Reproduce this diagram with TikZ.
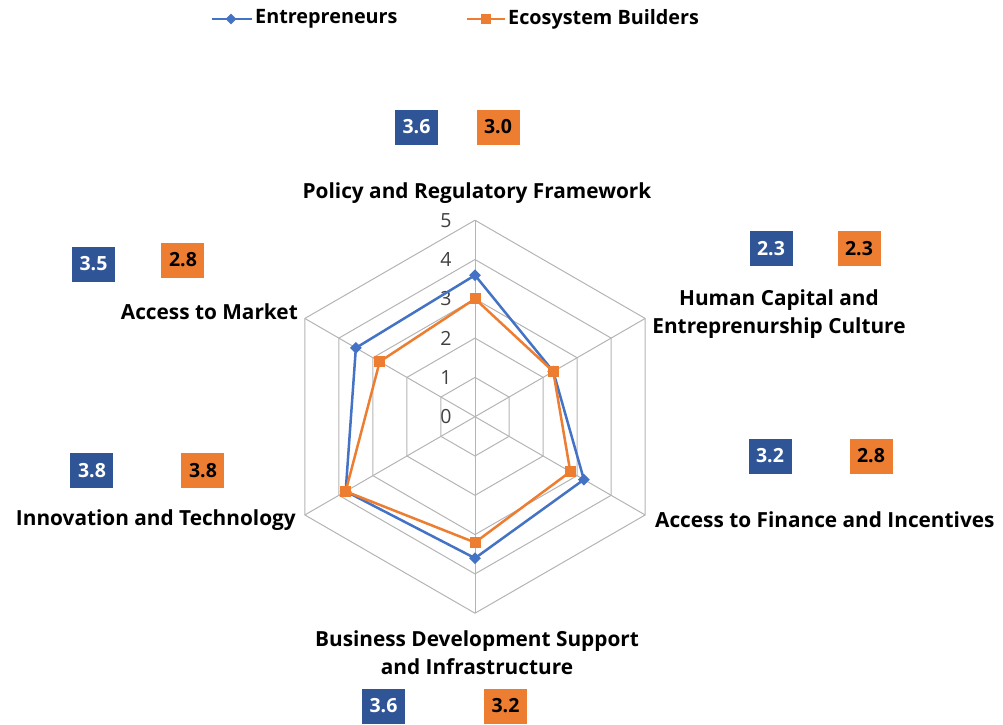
\documentclass[tikz,border=0pt]{standalone}
\usepackage{fontspec}
\setmainfont{Open Sans}
\usetikzlibrary{shapes.geometric}
\definecolor{entline}{HTML}{4472C4}
\definecolor{entbox}{HTML}{2F5597}
\definecolor{ecoorange}{HTML}{ED7D31}
\definecolor{gridgray}{HTML}{B4B4B4}
\definecolor{ticktext}{HTML}{404040}

\begin{document}
\begin{tikzpicture}[x=39.3pt,y=39.3pt,
    grid line/.style={draw=gridgray,line width=1pt},
    ent line/.style={draw=entline,line width=2.5pt,line join=round},
    eco line/.style={draw=ecoorange,line width=2.5pt,line join=round},
    ent mark/.style={diamond,fill=entline,inner sep=0pt,minimum size=12pt},
    eco mark/.style={rectangle,fill=ecoorange,inner sep=0pt,minimum size=11pt},
    axis label/.style={font=\bfseries\fontsize{20.8}{28}\selectfont,align=center,inner sep=1pt},
    legend label/.style={font=\bfseries\fontsize{19.8}{24}\selectfont,inner sep=1pt},
    tick label/.style={text=ticktext,font=\fontsize{19.5}{22}\selectfont},
    ent box/.style={fill=entbox,text=white,font=\bfseries\fontsize{19.5}{20}\selectfont,minimum width=43pt,minimum height=35pt,inner sep=0pt},
    eco box/.style={ent box,fill=ecoorange,text=black}]

    \useasboundingbox (-475pt,-307.3pt) rectangle (528pt,416.7pt);

    % web
    \foreach \k in {1,...,5}
        \draw[grid line] (90:\k) -- (30:\k) -- (-30:\k) -- (-90:\k) -- (-150:\k) -- (150:\k) -- cycle;
    \foreach \a in {90,30,-30,-90,-150,150}
        \draw[grid line] (0,0) -- (\a:5);

    \node[tick label] (t0) at (-29pt,0) {0};
    \node[tick label] (t1) at (-29pt,1) {1};
    \node[tick label] (t2) at (-29pt,2) {2};
    \node[tick label] (t3) at (-29pt,3) {3};
    \node[tick label] (t4) at (-29pt,4) {4};
    \node[tick label] (t5) at (-29pt,5) {5};

    % Entrepreneurs
    \coordinate (e1) at (90:3.6);
    \coordinate (e2) at (30:2.3);
    \coordinate (e3) at (-30:3.2);
    \coordinate (e4) at (-90:3.6);
    \coordinate (e5) at (-150:3.8);
    \coordinate (e6) at (150:3.5);
    \draw[ent line] (e1) -- (e2) -- (e3) -- (e4) -- (e5) -- (e6) -- cycle;
    \foreach \p in {e1,e2,e3,e4,e5,e6}
        \node[ent mark] (m\p) at (\p) {};

    % Ecosystem Builders
    \coordinate (b1) at (90:3.0);
    \coordinate (b2) at (30:2.3);
    \coordinate (b3) at (-30:2.8);
    \coordinate (b4) at (-90:3.2);
    \coordinate (b5) at (-150:3.8);
    \coordinate (b6) at (150:2.8);
    \draw[eco line] (b1) -- (b2) -- (b3) -- (b4) -- (b5) -- (b6) -- cycle;
    \foreach \p in {b1,b2,b3,b4,b5,b6}
        \node[eco mark] (m\p) at (\p) {};

    % axis names
    \node[axis label] (a1) at (2pt,223.7pt) {Policy and Regulatory Framework};
    \node[axis label] (a2) at (304pt,102.7pt) {Human Capital and\\Entreprenurship Culture};
    \node[axis label,anchor=west] (a3) at (179pt,-103.3pt) {Access to Finance and Incentives};
    \node[axis label] (a4) at (2pt,-236.3pt) {Business Development Support\\and Infrastructure};
    \node[axis label,anchor=east] (a5) at (-178pt,-103.3pt) {Innovation and Technology};
    \node[axis label,anchor=east] (a6) at (-176pt,104.7pt) {Access to Market};

    % value boxes
    \node[ent box] (v1e) at (-58.5pt,289.7pt) {3.6};
    \node[eco box] (v1b) at (23pt,289.7pt) {3.0};
    \node[ent box] (v2e) at (296pt,168pt) {2.3};
    \node[eco box] (v2b) at (384pt,168pt) {2.3};
    \node[ent box] (v3e) at (295pt,-39.3pt) {3.2};
    \node[eco box] (v3b) at (396pt,-39.3pt) {2.8};
    \node[ent box] (v4e) at (-91.5pt,-289.3pt) {3.6};
    \node[eco box] (v4b) at (30.5pt,-289.3pt) {3.2};
    \node[ent box] (v5e) at (-383pt,-53.8pt) {3.8};
    \node[eco box] (v5b) at (-272pt,-53.8pt) {3.8};
    \node[ent box] (v6e) at (-381.5pt,152.7pt) {3.5};
    \node[eco box] (v6b) at (-292pt,156.7pt) {2.8};

    % legend
    \coordinate (le1) at (-263pt,397.7pt);
    \coordinate (le2) at (-223pt,397.7pt);
    \draw[ent line] (le1) -- (le2);
    \node[ent mark,minimum size=11pt] (lem) at (-244pt,397.7pt) {};
    \node[legend label,anchor=west] (let) at (-221pt,397.7pt) {Entrepreneurs};
    \coordinate (lb1) at (-8pt,397.7pt);
    \coordinate (lb2) at (30pt,397.7pt);
    \draw[eco line] (lb1) -- (lb2);
    \node[eco mark,minimum size=10pt] (lbm) at (11pt,397.7pt) {};
    \node[legend label,anchor=west] (lbt) at (32pt,397.7pt) {Ecosystem Builders};
\end{tikzpicture}
\end{document}
